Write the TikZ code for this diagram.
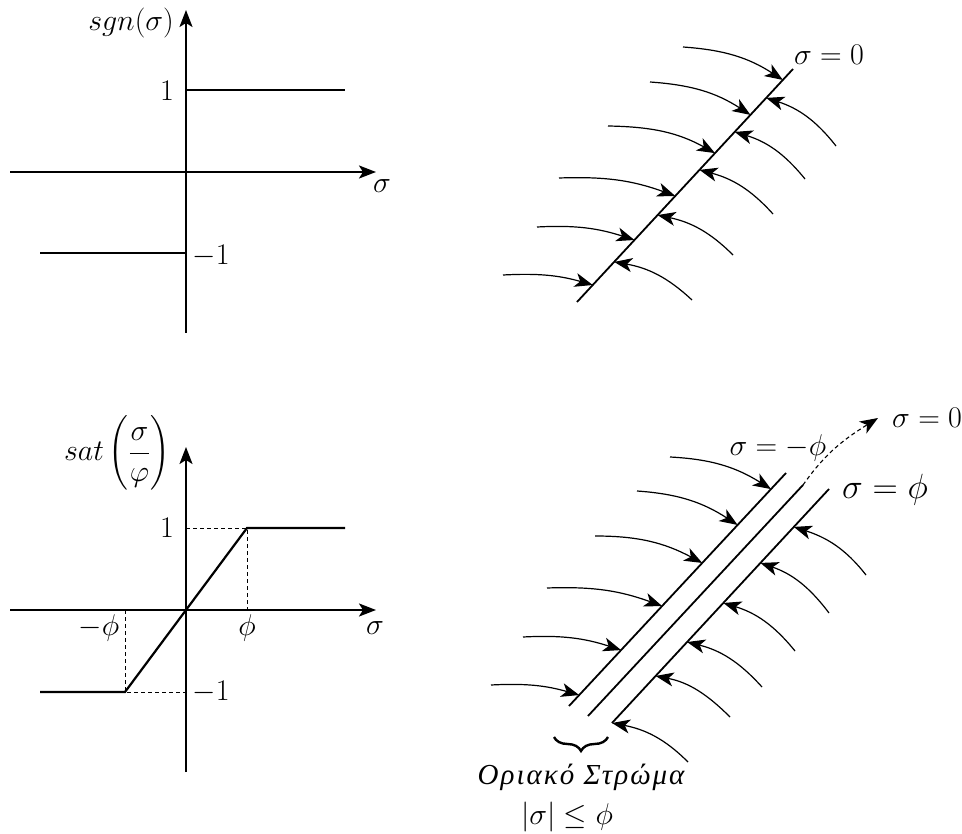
\RequirePackage{fix-cm}
\documentclass[tikz,border=0pt]{standalone}
\usepackage{amsmath}
\usepackage{fontspec}
\newfontfamily\grfont[LetterSpace=7]{Liberation Serif}
\usetikzlibrary{arrows.meta,decorations.pathreplacing,calc}
\tikzset{
  axis/.style={line width=2.2pt, -{Stealth[length=17pt,width=13pt,inset=4pt]}},
  plotline/.style={line width=2.2pt},
  guide/.style={line width=0.8pt, dash pattern=on 4pt off 3pt},
  flow/.style={line width=1.2pt, -{Stealth[length=18pt,width=14pt,inset=5pt]}},
  surf/.style={line width=1.8pt},
  lbl/.style={inner sep=0pt, font=\fontsize{30}{34}\selectfont},
  grlbl/.style={inner sep=0pt, font=\fontsize{29}{32}\selectfont},
  biglbl/.style={inner sep=0pt, font=\fontsize{35}{40}\selectfont},
}
\begin{document}
\begin{tikzpicture}[x=1pt,y=1pt]
\useasboundingbox (0,0) rectangle (962,-834);

% ---------- top-left: sgn ----------
\coordinate (O1) at (186,-172);
\coordinate (O1y) at (186,-10);
\coordinate (O1yb) at (186,-333);
\coordinate (O1x) at (376,-172);
\coordinate (O1xl) at (10,-172);
\draw[axis] (O1yb) -- (O1y);
\draw[axis] (O1xl) -- (O1x);
\coordinate (P1a) at (186,-90); \coordinate (P1b) at (345,-90);
\coordinate (M1a) at (40,-253); \coordinate (M1b) at (186,-253);
\draw[plotline] (P1a) -- (P1b);
\draw[plotline] (M1a) -- (M1b);
\node[lbl, anchor=east] (sgn) at (174,-23) {$sgn(\sigma)$};
\node[lbl] (one1) at (167,-91) {$1$};
\node[lbl] (sig1) at (382,-186) {$\sigma$};
\node[lbl] (mone1) at (211,-256) {$-1$};

% ---------- top-right: sliding surface ----------
\coordinate (TRa) at (577,-302);
\coordinate (TRb) at (793,-69);
\draw[surf] (TRa) -- (TRb);
\node[lbl] (s0a) at (829,-55) {$\sigma = 0$};
\foreach \t/\sx/\sy/\o/\i in {0.953/683/47/-4/147, 0.803/650/82/-4/147, 0.639/608/126/-1/151, 0.455/559/178/2/160, 0.266/537/227/3/162, 0.073/503/275/3/164}
  \draw[flow] (\sx,-\sy) to[out=\o,in=\i] ($(TRa)!\t!(TRb)$);
\foreach \t/\sx/\sy/\o/\i in {0.876/836/146/128/-18, 0.730/805/179/129/-17, 0.567/773/214/132/-15, 0.373/733/255/135/-12, 0.172/692/300/137/-10}
  \draw[flow] (\sx,-\sy) to[out=\o,in=\i] ($(TRa)!\t!(TRb)$);

% ---------- bottom-left: sat ----------
\coordinate (O2) at (186,-610);
\coordinate (O2y) at (186,-447);
\coordinate (O2yb) at (186,-772);
\coordinate (O2x) at (376,-610);
\coordinate (O2xl) at (10,-610);
\draw[axis] (O2yb) -- (O2y);
\draw[axis] (O2xl) -- (O2x);
\coordinate (S1) at (40,-692);
\coordinate (S2) at (125,-692);
\coordinate (S3) at (247,-528);
\coordinate (S4) at (345,-528);
\draw[plotline] (S1) -- (S2) -- (S3) -- (S4);
\draw[guide] (186,-528) -- (S3) -- (247,-610);
\draw[guide] (125,-610) -- (S2) -- (186,-692);
\node[lbl] (sat) at (117,-453) {$sat\left(\dfrac{\sigma}{\varphi}\right)$};
\node[lbl] (one2) at (167,-528) {$1$};
\node[lbl] (mone2) at (211,-692) {$-1$};
\node[lbl] (mphi) at (99,-628) {$-\phi$};
\node[lbl] (phi) at (247,-628) {$\phi$};
\node[lbl] (sig2) at (375,-628) {$\sigma$};

% ---------- bottom-right: boundary layer ----------
\coordinate (LAa) at (569,-706); \coordinate (LAb) at (786,-473);
\coordinate (LBa) at (588,-716); \coordinate (LBb) at (803,-485);
\coordinate (LCa) at (612,-723); \coordinate (LCb) at (829,-489);
\draw[surf] (LAa) -- (LAb);
\draw[surf] (LBa) -- (LBb);
\draw[surf] (LCa) -- (LCb);
\coordinate (DEnd) at (878,-418);
\draw[line width=1.1pt, dash pattern=on 4pt off 3pt, -{Stealth[length=18pt,width=14pt,inset=5pt]}] (LBb) to[out=55,in=212] (DEnd);
\node[lbl, anchor=west] (s0b) at (892,-418) {$\sigma = 0$};
\node[lbl] (smphi) at (778,-448) {$\sigma = -\phi$};
\node[biglbl] (sphi) at (885,-490) {$\sigma = \phi$};
\foreach \t/\sx/\sy/\o/\i in {0.931/670/457/-3/148, 0.777/637/491/-4/147, 0.614/595/536/0/152, 0.429/547/588/2/160, 0.240/523/637/3/162, 0.047/491/685/3/164}
  \draw[flow] (\sx,-\sy) to[out=\o,in=\i] ($(LAa)!\t!(LAb)$);
\foreach \t/\sx/\sy/\o/\i in {0.838/866/575/128/-18, 0.684/829/613/127/-19, 0.513/795/651/129/-17, 0.346/762/687/132/-14, 0.201/730/717/135/-11, 0.0/688/762/135/-11}
  \draw[flow] (\sx,-\sy) to[out=\o,in=\i] ($(LCa)!\t!(LCb)$);
\coordinate (BrL) at (554,-737);
\coordinate (BrR) at (608,-737);
\draw[line width=2.4pt, decorate, decoration={brace,mirror,amplitude=14pt}] (BrL) -- (BrR);
\node[grlbl] (layer) at (581,-777) {\grfont\itshape Οριακό Στρώμα};
\node[lbl] (abs) at (567,-817) {$|\sigma|\leq\phi$};
\end{tikzpicture}
\end{document}
